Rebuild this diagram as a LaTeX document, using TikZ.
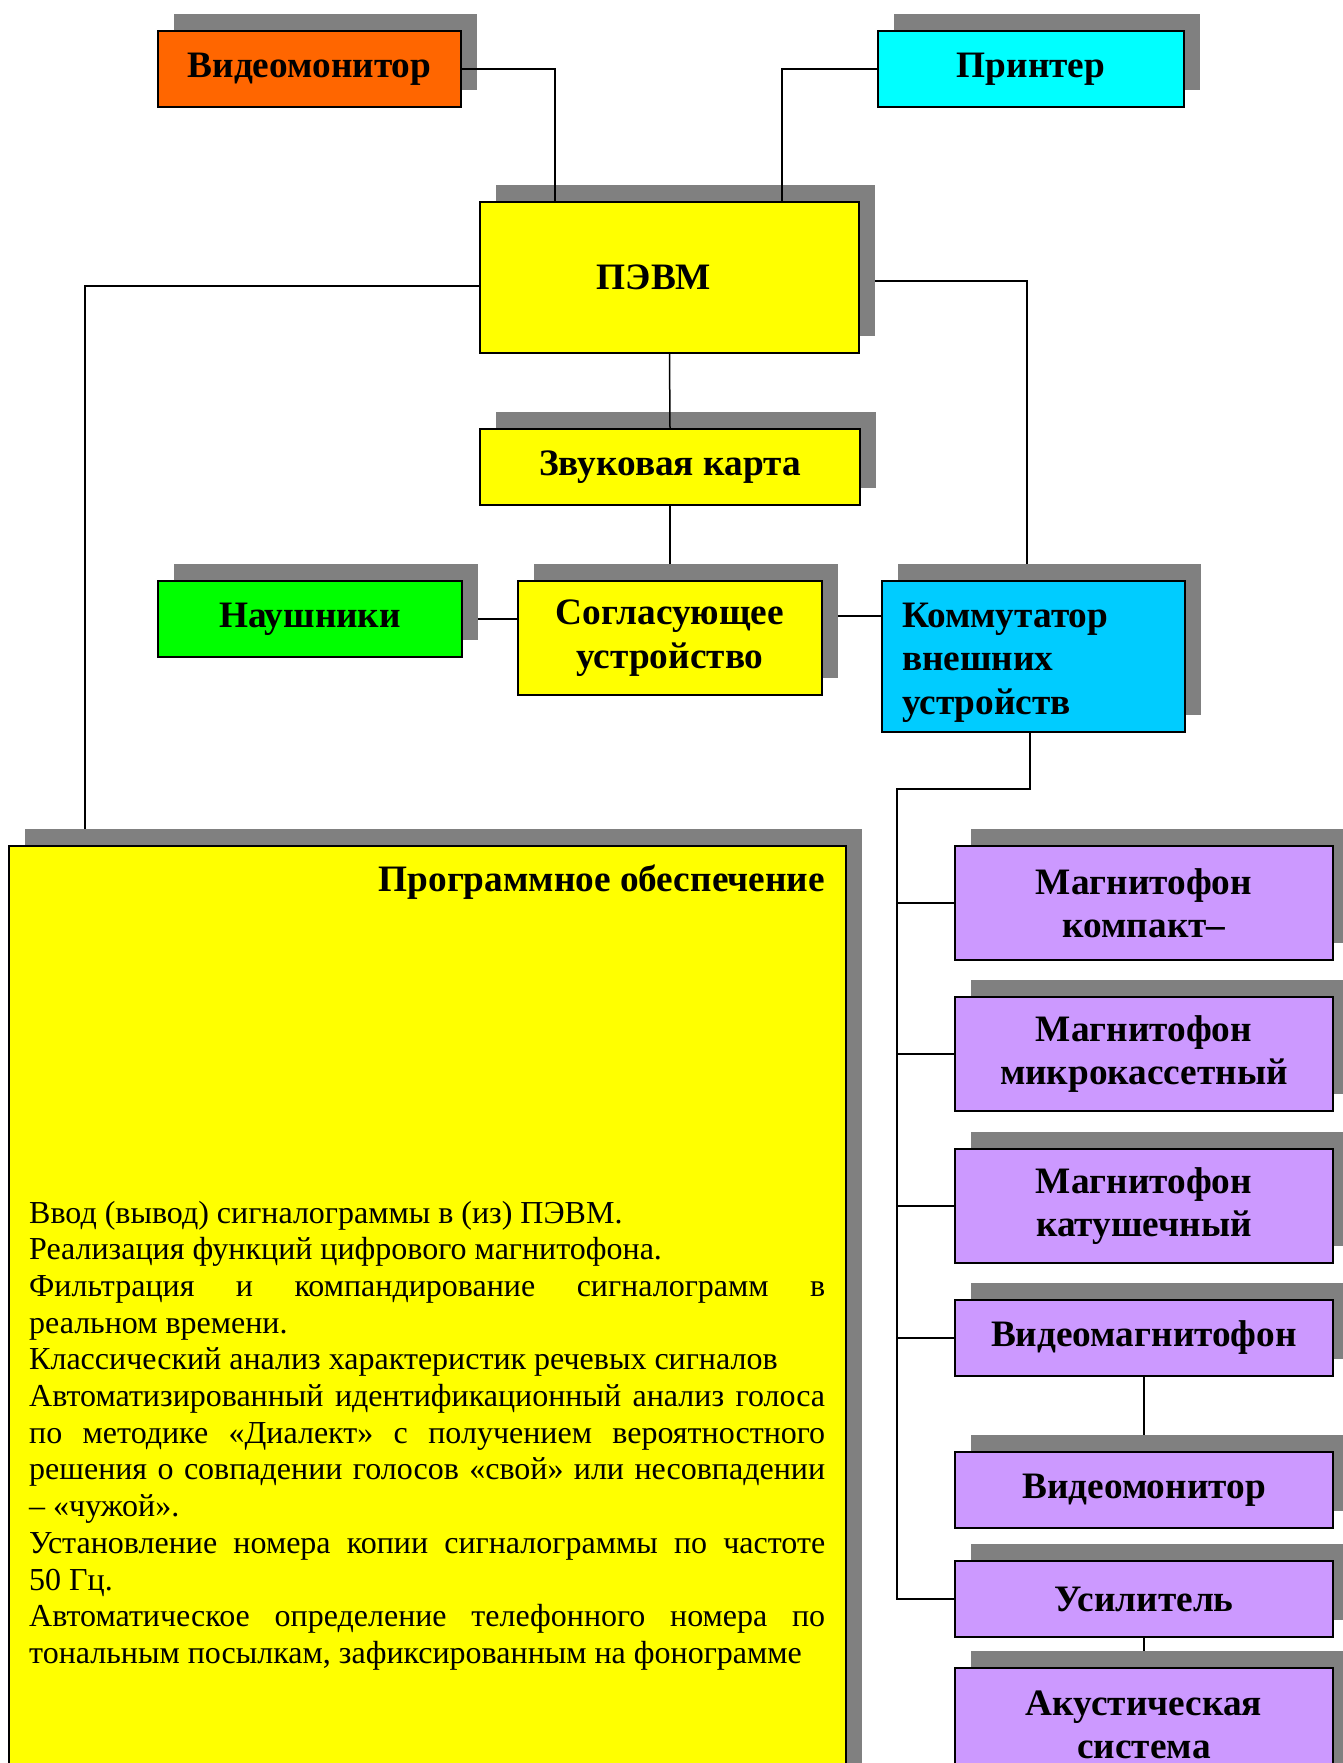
\documentclass[tikz,border=0pt]{standalone}
\usepackage{fontspec}
\setmainfont{Liberation Serif}
\usetikzlibrary{shadows,calc}
\pgfdeclarelayer{background}
\pgfsetlayers{background,main}
\definecolor{cOrange}{HTML}{FF6600}
\definecolor{cCyan}{HTML}{00FFFF}
\definecolor{cYellow}{HTML}{FFFF00}
\definecolor{cGreen}{HTML}{00FF00}
\definecolor{cBlue}{HTML}{00CCFF}
\definecolor{cPurple}{HTML}{CC99FF}
\definecolor{shadowgray}{HTML}{808080}
\newcommand\boxfont{\fontsize{37.3}{43.5}\selectfont\bfseries}
\newcommand\bodyfont{\fontsize{32}{36.7}\selectfont}
\newcommand\jline[1]{\makebox[\linewidth][s]{#1}}
\tikzset{
  box/.style={draw=black, line width=2pt, inner sep=0pt, align=center, font=\boxfont,
    general shadow={fill=shadowgray, shadow xshift=16pt, shadow yshift=17pt}},
  conn/.style={line width=1.5pt, draw=black},
}
\begin{document}
\begin{tikzpicture}[x=1pt,y=-1pt]
\useasboundingbox (0,0) rectangle (1342,1763);
% top row
\node[box, fill=cOrange, minimum width=303, minimum height=76] (vm) at (309.5,69) {Видеомонитор};
\node[box, fill=cCyan, minimum width=306, minimum height=76] (pr) at (1031,69) {Принтер};
\node[box, fill=cYellow, minimum width=379, minimum height=151] (pevm) at (669.5,277.5) {ПЭВМ\hspace{31pt}};
\node[box, fill=cYellow, minimum width=380, minimum height=76] (zvuk) at (670,467) {Звуковая карта};
\node[box, fill=cGreen, minimum width=304, minimum height=76] (naush) at (310,619) {Наушники};
\node[box, fill=cYellow, minimum width=304, minimum height=114] (sogl) at (670,638) {Согласующее\\устройство};
\node[box, fill=cBlue, text width=263, inner xsep=20, minimum height=151, align=left] (komm) at (1033.5,656.5) {\rule{0pt}{37pt}Коммутатор\\внешних\\устройств};
% software box
\node[box, fill=cYellow, minimum width=837, minimum height=950] (sw) at (427.5,1321) {};
\node[font=\boxfont, anchor=base east, inner sep=0] (swtitle) at (825,891) {Программное обеспечение};
\node[anchor=base west, inner sep=0] (swtext) at (29,1223) {\parbox[t]{796pt}{\bodyfont\parindent=0pt
Ввод (вывод) сигналограммы в (из) ПЭВМ.\\
Реализация функций цифрового магнитофона.\\
\jline{Фильтрация и компандирование сигналограмм в}\\
реальном времени.\\
Классический анализ характеристик речевых сигналов\\
\jline{Автоматизированный идентификационный анализ голоса}\\
\jline{по методике «Диалект» с получением вероятностного}\\
\jline{решения о совпадении голосов «свой» или несовпадении}\\
– «чужой».\\
\jline{Установление номера копии сигналограммы по частоте}\\
50 Гц.\\
\jline{Автоматическое определение телефонного номера по}\\
тональным посылкам, зафиксированным на фонограмме}};
% purple column
\node[box, fill=cPurple, minimum width=378, minimum height=114] (kompakt) at (1144,903) {Магнитофон\\компакт–};
\node[box, fill=cPurple, minimum width=378, minimum height=114] (mikro) at (1144,1054) {Магнитофон\\микрокассетный};
\node[box, fill=cPurple, minimum width=378, minimum height=114] (katush) at (1144,1206) {Магнитофон\\катушечный};
\node[box, fill=cPurple, minimum width=378, minimum height=76] (vmagn) at (1144,1338) {Видеомагнитофон};
\node[box, fill=cPurple, minimum width=378, minimum height=76] (vmon) at (1144,1490) {Видеомонитор};
\node[box, fill=cPurple, minimum width=378, minimum height=76] (usil) at (1144,1599) {Усилитель};
\node[box, fill=cPurple, minimum width=378, minimum height=114] (akust) at (1144,1725) {Акустическая\\система};
% connectors drawn over shadows
\draw[conn] (vm.east) -| ([xshift=76pt]pevm.north west);
\draw[conn] (pr.west) -| ([xshift=303pt]pevm.north west);
\draw[conn] (pevm.south) -- (zvuk.north);
% connectors behind shadows
\begin{pgfonlayer}{background}
\draw[conn] ([yshift=-8.5pt]pevm.west) -| ([xshift=77pt]sw.north west);
\draw[conn] ([yshift=-3.5pt]pevm.east) -| ([xshift=-6.5pt]komm.north);
\draw[conn] (zvuk.south) -- (sogl.north);
\draw[conn] (naush.east) -- (naush.east -| sogl.west);
\draw[conn] ([yshift=22pt]sogl.east) -- ([yshift=22pt]sogl.east -| komm.west);
\coordinate (bt) at (897,789);
\draw[conn] ([xshift=-3.5pt]komm.south) |- (bt) -- (bt |- usil.west) -- (usil.west);
\draw[conn] (bt |- kompakt.west) -- (kompakt.west);
\draw[conn] (bt |- mikro.west) -- (mikro.west);
\draw[conn] (bt |- katush.west) -- (katush.west);
\draw[conn] (bt |- vmagn.west) -- (vmagn.west);
\draw[conn] (vmagn.south) -- (vmon.north);
\draw[conn] (usil.south) -- (akust.north);
\end{pgfonlayer}
\end{tikzpicture}
\end{document}
